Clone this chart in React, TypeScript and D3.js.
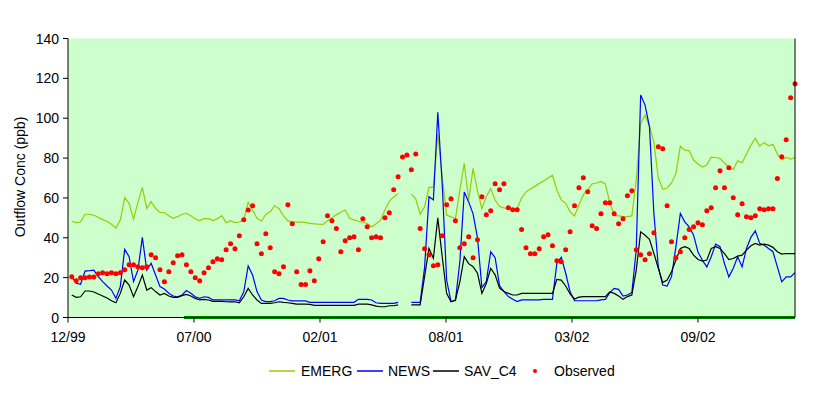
import React from "react";
import * as d3 from "d3";

// ---- data ----
const axisStart = "1999-12-30";
const axisEnd = "2003-02-26";
const firstSample = "2000-01-05";
const sampleStepDays = 7;
const tickStepDays = 200;
const yTicks = [0, 20, 40, 60, 80, 100, 120, 140];
const baselineDates = ["2000-07-01", "2003-02-26"];

const emerg: (number | null)[] = [
  48.3, 47.6, 47.9, 51.8, 51.8, 51.3, 50.3, 49.1, 48.3, 46.8,
  44.9, 48.9, 60.1, 57.3, 49.3, 57.8, 65.3, 54.7, 58.1, 54.7,
  52.7, 52.7, 51.1, 49.8, 50.6, 51.8, 52.3, 51.1, 49.4, 48.6,
  49.6, 49.6, 48.6, 49.6, 51.1, 47.6, 48.6, 47.6, 47.9, 48.9,
  57.8, 53.9, 49.8, 48.3, 51.8, 53.1, 56.1, 54.6, 51.0, 48.5,
  47.9, 47.9, 47.9, 47.7, 47.2, 47.0, 46.8, 46.7, 48.5, 50.0,
  51.5, 52.8, 53.9, 49.8, 49.0, 48.3, 47.8, 47.2, 45.4, 47.0,
  48.7, 53.9, 58.3, 60.5, 62.3, null, null, 61.9, 59.5, 51.8,
  55.6, 65.3, 65.3, 92.0, 70.7, 51.4, 50.5, 49.7, 63.9, 77.3,
  58.9, 74.8, 63.5, 54.7, 60.6, 64.8, 58.9, 55.8, 55.0, 54.5,
  53.9, 54.7, 60.0, 63.0, 64.5, 65.8, 67.3, 68.5, 70.0, 71.4,
  64.0, 59.0, 57.3, 53.0, 51.0, 56.5, 61.5, 64.0, 67.0, 67.5,
  68.3, 67.0, 57.5, 51.4, 51.0, 50.6, 50.6, 51.0, 69.0, 97.4,
  101.5, 96.0, 88.0, 70.0, 64.5, 65.0, 67.5, 72.3, 86.0, 84.0,
  83.8, 79.0, 77.0, 75.5, 76.5, 80.5, 80.3, 79.8, 77.5, 75.5,
  74.3, 78.7, 77.7, 82.0, 86.5, 89.9, 86.0, 87.7, 86.2, 86.9,
  82.0, 79.0, 80.3, 79.5, 80.3,
];

const news: (number | null)[] = [
  20.5, 17.2, 16.7, 23.3, 23.5, 23.8, 20.5, 18.0, 15.8, 13.8,
  9.6, 15.5, 34.2, 30.5, 18.0, 23.8, 40.2, 23.8, 27.2, 21.3,
  15.5, 14.3, 12.2, 10.8, 10.4, 11.3, 13.5, 12.2, 10.4, 9.6,
  10.4, 10.1, 8.8, 8.8, 8.8, 8.8, 8.8, 8.8, 8.4, 12.9,
  25.9, 21.3, 13.0, 8.8, 8.0, 8.0, 8.4, 9.6, 9.6, 8.8,
  8.3, 8.3, 8.3, 8.3, 7.6, 7.6, 7.6, 7.6, 7.6, 7.6,
  7.6, 7.6, 7.6, 7.6, 7.6, 9.1, 9.1, 9.1, 8.8, 7.4,
  7.1, 7.1, 7.1, 7.1, 7.6, null, null, 7.6, 7.6, 7.6,
  25.0, 60.6, 59.0, 103.0, 67.0, 18.8, 8.0, 8.5, 28.0, 63.0,
  58.0, 52.0, 40.0, 15.0, 18.0, 33.0, 30.0, 16.0, 13.0, 10.5,
  9.2, 8.0, 8.8, 8.8, 8.8, 8.8, 8.8, 9.1, 9.1, 9.1,
  27.2, 30.2, 22.2, 12.9, 8.4, 8.4, 8.4, 8.4, 8.4, 8.4,
  8.8, 9.1, 12.5, 14.6, 14.1, 10.8, 11.3, 12.5, 34.0, 111.6,
  106.6, 95.7, 52.2, 25.5, 16.3, 15.8, 20.5, 35.6, 52.2, 48.0,
  45.5, 41.3, 32.9, 28.7, 25.4, 30.5, 36.8, 35.5, 27.1, 20.4,
  24.7, 30.5, 25.4, 34.6, 40.2, 43.5, 37.2, 36.3, 34.6, 33.0,
  25.4, 17.9, 20.4, 20.4, 22.5,
];

const savC4: (number | null)[] = [
  11.3, 10.1, 10.4, 13.3, 13.3, 12.8, 11.8, 10.8, 9.8, 8.4,
  7.4, 12.1, 18.8, 16.3, 10.4, 15.5, 21.3, 13.8, 15.0, 13.0,
  11.3, 12.1, 10.8, 10.1, 10.1, 11.0, 11.6, 10.8, 9.6, 8.8,
  9.1, 8.8, 8.1, 8.1, 8.1, 7.9, 7.8, 7.9, 7.4, 10.4,
  14.6, 11.3, 8.8, 7.1, 7.1, 7.1, 7.4, 7.9, 7.6, 7.4,
  7.1, 6.7, 6.7, 6.7, 6.6, 6.1, 6.1, 6.1, 6.1, 6.1,
  6.1, 6.1, 6.1, 6.1, 6.1, 6.7, 6.7, 6.7, 6.3, 5.7,
  5.4, 5.4, 5.9, 5.9, 6.3, null, null, 6.3, 6.3, 6.3,
  20.5, 34.7, 29.7, 50.0, 30.5, 12.1, 7.9, 8.8, 17.9, 30.5,
  27.0, 25.5, 22.2, 12.1, 17.1, 24.7, 21.4, 14.7, 13.0, 12.1,
  11.3, 11.3, 12.1, 12.1, 12.1, 12.1, 12.1, 12.1, 12.1, 12.1,
  19.1, 18.8, 15.8, 11.8, 9.3, 10.2, 10.5, 10.5, 10.5, 10.5,
  10.5, 10.5, 12.8, 12.1, 10.8, 9.1, 10.5, 11.3, 23.8, 43.0,
  41.3, 39.2, 32.2, 24.7, 17.5, 18.8, 23.0, 28.8, 34.6, 35.5,
  34.6, 31.3, 29.1, 28.3, 28.8, 34.6, 35.5, 34.6, 32.1, 29.1,
  29.6, 30.8, 31.3, 33.8, 36.0, 37.2, 36.3, 36.8, 36.3, 35.2,
  33.0, 31.8, 32.1, 32.1, 32.1,
];

const observed: number[] = [
  20.5, 18.5, 20.0, 20.0, 20.3, 20.3, 22.0, 22.5, 22.0, 22.5,
  22.0, 22.5, 24.0, 26.5, 26.5, 25.5, 25.0, 25.5, 31.5, 30.0,
  24.0, 18.0, 23.0, 27.5, 31.0, 31.5, 26.5, 23.0, 20.0, 18.5,
  22.5, 25.0, 28.0, 29.5, 29.0, 34.0, 37.0, 34.5, 41.0, 49.0,
  54.0, 56.1, 37.0, 32.0, 42.0, 35.0, 23.0, 22.0, 25.5, 56.6,
  47.1, 23.0, 16.5, 16.5, 23.5, 18.5, 29.5, 38.0, 51.1, 48.6,
  44.6, 33.0, 38.5, 40.0, 40.5, 34.0, 49.6, 45.6, 40.0, 40.5,
  40.0, 50.1, 52.6, 64.1, 70.6, 80.6, 81.6, 74.2, 82.1, 44.6,
  34.5, 31.5, 26.0, 26.5, 41.0, 56.6, 59.6, 48.6, 35.0, 37.0,
  40.5, 30.0, 39.0, 60.6, 51.6, 53.6, 67.1, 64.1, 67.1, 55.1,
  54.1, 54.1, 44.1, 35.0, 32.0, 32.0, 34.5, 40.5, 41.5, 36.0,
  28.5, 28.0, 34.0, 43.0, 56.1, 65.1, 70.1, 63.1, 46.1, 44.6,
  52.1, 57.6, 57.6, 52.1, 47.1, 49.6, 61.1, 63.6, 34.0, 31.5,
  29.0, 32.0, 42.5, 85.7, 84.7, 56.1, 38.0, 30.0, 33.0, 40.0,
  44.1, 45.6, 47.6, 46.6, 53.6, 55.1, 65.1, 73.7, 65.1, 75.2,
  60.1, 51.6, 57.1, 50.6, 50.1, 51.1, 54.6, 54.1, 54.6, 54.6,
  69.7, 80.7, 89.2, 110.3, 117.3,
];

const legendItems = [
  { name: "EMERG", kind: "line", color: "#99CC00" },
  { name: "NEWS", kind: "line", color: "#0000FF" },
  { name: "SAV_C4", kind: "line", color: "#000000" },
  { name: "Observed", kind: "dot", color: "#FF0000" },
];

// ---- layout ----
const W = 828;
const H = 395;
const left = 68;
const right = 795;
const top = 38.5;
const bottom = 317.5;
const FONT = "'Liberation Sans', Arial, sans-serif";

export default function App() {
  const parse = (s: string) => new Date(s + "T00:00:00Z");
  const t0 = parse(axisStart);
  const t1 = parse(axisEnd);
  const s0 = parse(firstSample);

  const x = d3.scaleUtc().domain([t0, t1]).range([left, right]);
  const y = d3.scaleLinear().domain([0, 140]).range([bottom, top]);

  const dates = observed.map((_, i) => d3.utcDay.offset(s0, i * sampleStepDays));

  const lineGen = d3
    .line<number | null>()
    .defined((d) => d != null)
    .x((_, i) => x(dates[i]))
    .y((d) => y(d as number));

  const xTicks: Date[] = [];
  for (let k = 0; ; k++) {
    const d = d3.utcDay.offset(t0, k * tickStepDays);
    if (d > t1) break;
    xTicks.push(d);
  }
  const fmt = d3.utcFormat("%m/%y");

  const baseline = d3
    .line<string>()
    .x((d) => x(parse(d)))
    .y(() => y(0));

  const legendX = [269, 357, 433, 535];
  const legendTextX = [301, 388, 464, 554];
  const legendY = 371;

  return (
    <svg
      width={W}
      height={H}
      style={{ position: "absolute", left: 0, top: 0, background: "#fff" }}
      fontFamily={FONT}
    >
      <rect x={left} y={top} width={right - left} height={bottom - top} fill="#CCFFCC" />
      {/* baseline series */}
      <path d={baseline(baselineDates) || ""} stroke="#008000" strokeWidth={3} fill="none" />
      {/* model lines */}
      <path d={lineGen(emerg) || ""} stroke="#99CC00" strokeWidth={1.2} fill="none" />
      <path d={lineGen(news) || ""} stroke="#0000FF" strokeWidth={1.2} fill="none" />
      <path d={lineGen(savC4) || ""} stroke="#000000" strokeWidth={1.2} fill="none" />
      {/* observed */}
      {observed.map((v, i) => (
        <circle key={i} cx={x(dates[i])} cy={y(v)} r={2.5} fill="#FF0000" />
      ))}
      {/* axes */}
      <line x1={left} x2={left} y1={top} y2={bottom} stroke="#000" />
      <line x1={left} x2={right} y1={bottom} y2={bottom} stroke="#000" />
      <line x1={right} x2={right} y1={top} y2={bottom} stroke="#000" />
      {yTicks.map((t) => (
        <g key={t}>
          <line x1={left - 5} x2={left} y1={y(t)} y2={y(t)} stroke="#000" />
          <text x={left - 9} y={y(t)} dy="0.36em" textAnchor="end" fontSize={14} fill="#000">
            {t}
          </text>
        </g>
      ))}
      {xTicks.map((d, i) => (
        <g key={i}>
          <line x1={x(d)} x2={x(d)} y1={bottom} y2={bottom + 5} stroke="#000" />
          <text x={x(d)} y={342} textAnchor="middle" fontSize={14} fill="#000">
            {fmt(d)}
          </text>
        </g>
      ))}
      <text
        transform={`translate(25,177) rotate(-90)`}
        textAnchor="middle"
        fontSize={14}
        fill="#000"
      >
        Outflow Conc (ppb)
      </text>
      {/* legend */}
      {legendItems.map((it, i) => (
        <g key={it.name}>
          {it.kind === "line" ? (
            <line
              x1={legendX[i]}
              x2={legendX[i] + 26}
              y1={legendY}
              y2={legendY}
              stroke={it.color}
              strokeWidth={1.5}
            />
          ) : (
            <circle cx={legendX[i]} cy={legendY} r={2} fill={it.color} />
          )}
          <text x={legendTextX[i]} y={legendY} dy="0.36em" fontSize={14} fill="#000">
            {it.name}
          </text>
        </g>
      ))}
    </svg>
  );
}
